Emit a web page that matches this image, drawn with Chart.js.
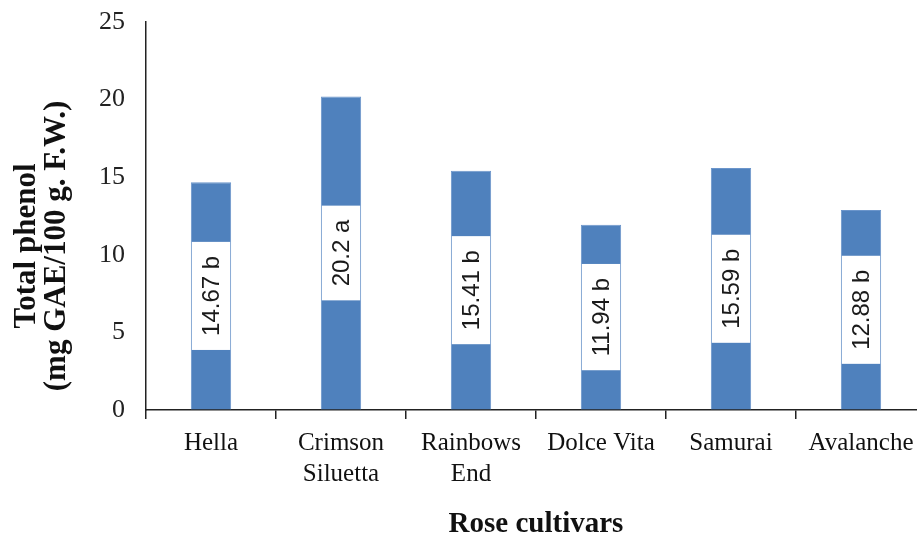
<!DOCTYPE html>
<html>
<head>
<meta charset="utf-8">
<script src="https://cdn.jsdelivr.net/npm/chart.js@4/dist/chart.umd.min.js"></script>
<style>
  html, body { margin: 0; padding: 0; background: #fff; overflow: hidden; }
  #wrap { width: 917px; height: 542px; overflow: hidden; }
  canvas { display: block; }
</style>
</head>
<body>
<div id="wrap"><canvas id="c" width="926" height="542"></canvas></div>
<script>
// Total phenol content per rose cultivar (mg GAE/100 g F.W.)
const cultivars = [['Hella'], ['Crimson', 'Siluetta'], ['Rainbows', 'End'], ['Dolce Vita'], ['Samurai'], ['Avalanche']];
const phenol = [14.67, 20.2, 15.41, 11.94, 15.59, 12.88];
const groupLetters = ['b', 'a', 'b', 'b', 'b', 'b'];
const yTicks = [0, 5, 10, 15, 20, 25];

const serif = '"Liberation Serif", "Times New Roman", serif';
const sans = '"Liberation Sans", Arial, sans-serif';

// Value + significance letter, written upright inside a white box at mid-bar
const barLabels = {
  id: 'barLabels',
  afterDatasetsDraw(chart) {
    const ctx = chart.ctx;
    const meta = chart.getDatasetMeta(0);
    ctx.save();
    ctx.font = '24px ' + sans;
    meta.data.forEach((bar, i) => {
      const text = phenol[i] + ' ' + groupLetters[i];
      const tw = ctx.measureText(text).width;
      const mid = (bar.y + bar.base) / 2;
      const boxH = tw + 28;
      const boxW = bar.width - 2;
      ctx.fillStyle = '#ffffff';
      ctx.fillRect(bar.x - boxW / 2, mid - boxH / 2, boxW, boxH);
      ctx.save();
      ctx.translate(bar.x, mid);
      ctx.rotate(-Math.PI / 2);
      ctx.fillStyle = '#1a1a1a';
      ctx.textAlign = 'center';
      ctx.textBaseline = 'middle';
      ctx.fillText(text, 0, 1);
      ctx.restore();
    });
    ctx.restore();
  }
};

// Two-line vertical axis title
const yTitle = {
  id: 'yTitle',
  afterDraw(chart) {
    const ctx = chart.ctx;
    const lines = ['Total phenol', '(mg GAE/100 g. F.W.)'];
    const xs = [27, 57];
    ctx.save();
    ctx.font = 'bold 31px ' + serif;
    ctx.fillStyle = '#111';
    ctx.textAlign = 'center';
    ctx.textBaseline = 'middle';
    lines.forEach((t, i) => {
      ctx.save();
      ctx.translate(xs[i], 246);
      ctx.rotate(-Math.PI / 2);
      ctx.fillText(t, 0, 0);
      ctx.restore();
    });
    ctx.restore();
  }
};

new Chart(document.getElementById('c'), {
  type: 'bar',
  data: {
    labels: cultivars,
    datasets: [{
      data: phenol,
      backgroundColor: '#4f81bd',
      borderColor: '#6b95cb',
      borderWidth: 1,
      barPercentage: 0.31,
      categoryPercentage: 1.0
    }]
  },
  options: {
    responsive: false,
    animation: false,
    layout: { padding: { top: 22, left: 0, right: 0, bottom: 0 } },
    plugins: {
      legend: { display: false },
      tooltip: { enabled: false }
    },
    scales: {
      x: {
        offset: true,
        grid: {
          offset: true,
          drawOnChartArea: false,
          drawTicks: true,
          tickLength: 9,
          color: '#222',
          lineWidth: 1.5
        },
        border: { display: true, color: '#222', width: 1.5 },
        ticks: {
          color: '#111',
          padding: 9,
          maxRotation: 0,
          autoSkip: false,
          font: { family: serif, size: 25, lineHeight: 1.25 }
        },
        title: {
          display: true,
          text: 'Rose cultivars',
          color: '#111',
          padding: { top: 0, bottom: 0 },
          font: { family: serif, size: 29, weight: 'bold', lineHeight: 1.2 }
        },
        afterFit(scale) { scale.height = 132; }
      },
      y: {
        min: 0,
        max: 25,
        afterBuildTicks(scale) { scale.ticks = yTicks.map(v => ({ value: v })); },
        grid: { display: true, drawOnChartArea: false, drawTicks: false, tickLength: 0 },
        border: { display: true, color: '#222', width: 1.5 },
        ticks: {
          color: '#222',
          padding: 21,
          font: { family: serif, size: 26 }
        },
        afterFit(scale) {
          scale.width = 146;
          scale.paddingTop = 0;
        }
      }
    }
  },
  plugins: [barLabels, yTitle]
});
</script>
</body>
</html>
